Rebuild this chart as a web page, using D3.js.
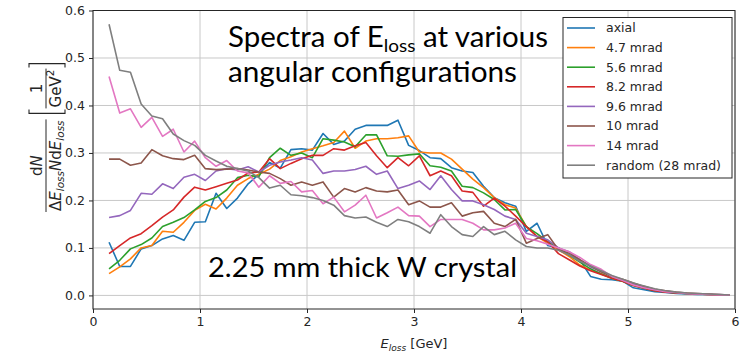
<!DOCTYPE html>
<html><head><meta charset="utf-8">
<script src="https://cdn.jsdelivr.net/npm/d3@7"></script>
<style>body{margin:0;background:#fff}svg{display:block}</style>
</head><body>
<svg id="c" width="740" height="355"></svg>
<script>
const energy = [0.15,0.25,0.35,0.45,0.55,0.65,0.75,0.85,0.95,
1.05,1.15,1.25,1.35,1.45,1.55,1.65,1.75,1.85,1.95,
2.05,2.15,2.25,2.35,2.45,2.55,2.65,2.75,2.85,2.95,
3.05,3.15,3.25,3.35,3.45,3.55,3.65,3.75,3.85,3.95,
4.05,4.15,4.25,4.35,4.45,4.55,4.65,4.75,4.85,4.95,
5.05,5.15,5.25,5.35,5.45,5.55,5.65,5.75,5.85,5.95];

const seriesNames = ["axial","4.7 mrad","5.6 mrad","8.2 mrad","9.6 mrad","10 mrad","14 mrad","random (28 mrad)"];
const seriesColors = ["#1f77b4","#ff7f0e","#2ca02c","#d62728","#9467bd","#8c564b","#e377c2","#7f7f7f"];

const axial = [0.112,0.061,0.061,0.098,0.105,0.119,0.126,0.116,0.154,
0.155,0.215,0.183,0.205,0.235,0.255,0.280,0.268,0.307,0.309,
0.306,0.341,0.318,0.325,0.350,0.358,0.358,0.358,0.369,0.316,
0.305,0.290,0.288,0.269,0.262,0.259,0.230,0.206,0.195,0.188,
0.135,0.152,0.105,0.100,0.085,0.075,0.040,0.034,0.033,0.030,
0.016,0.012,0.008,0.006,0.004,0.003,0.002,0.002,0.001,0.001];
const mrad47 = [0.046,0.060,0.077,0.100,0.105,0.135,0.133,0.154,0.179,
0.192,0.182,0.205,0.232,0.246,0.255,0.266,0.284,0.292,0.302,
0.309,0.315,0.322,0.346,0.310,0.325,0.330,0.330,0.332,0.336,
0.302,0.300,0.300,0.287,0.266,0.245,0.227,0.206,0.191,0.184,
0.145,0.124,0.110,0.096,0.082,0.064,0.053,0.046,0.036,0.030,
0.022,0.016,0.011,0.008,0.006,0.004,0.003,0.002,0.001,0.001];
const mrad56 = [0.056,0.074,0.098,0.107,0.121,0.145,0.154,0.164,0.180,
0.198,0.206,0.222,0.248,0.253,0.250,0.290,0.310,0.295,0.300,
0.290,0.330,0.327,0.323,0.313,0.338,0.338,0.294,0.293,0.296,
0.298,0.273,0.270,0.262,0.230,0.227,0.216,0.202,0.180,0.181,
0.145,0.130,0.113,0.100,0.085,0.070,0.056,0.045,0.036,0.030,
0.021,0.015,0.010,0.008,0.005,0.004,0.003,0.002,0.001,0.001];
const mrad82 = [0.088,0.105,0.121,0.130,0.147,0.165,0.180,0.207,0.228,
0.222,0.229,0.236,0.243,0.258,0.260,0.288,0.267,0.278,0.288,
0.295,0.295,0.309,0.306,0.315,0.322,0.294,0.269,0.290,0.273,
0.294,0.252,0.262,0.252,0.220,0.217,0.188,0.205,0.188,0.167,
0.145,0.124,0.113,0.088,0.075,0.062,0.052,0.044,0.036,0.030,
0.021,0.015,0.010,0.007,0.005,0.004,0.003,0.002,0.001,0.001];
const mrad96 = [0.164,0.168,0.179,0.215,0.213,0.235,0.225,0.249,0.255,
0.242,0.262,0.267,0.264,0.271,0.260,0.274,0.281,0.285,0.290,
0.285,0.257,0.262,0.262,0.265,0.272,0.255,0.262,0.225,0.232,
0.241,0.223,0.252,0.223,0.199,0.199,0.191,0.181,0.167,0.160,
0.131,0.124,0.117,0.100,0.092,0.075,0.060,0.050,0.040,0.032,
0.024,0.017,0.012,0.009,0.006,0.004,0.003,0.002,0.002,0.001];
const mrad10 = [0.287,0.287,0.274,0.279,0.307,0.294,0.288,0.286,0.295,
0.267,0.265,0.266,0.267,0.264,0.260,0.257,0.246,0.232,0.239,
0.232,0.239,0.207,0.225,0.218,0.227,0.220,0.218,0.222,0.191,
0.199,0.186,0.186,0.195,0.167,0.174,0.177,0.152,0.145,0.160,
0.110,0.120,0.128,0.096,0.089,0.075,0.062,0.050,0.040,0.034,
0.026,0.019,0.013,0.010,0.007,0.005,0.004,0.003,0.002,0.001];
const mrad14 = [0.461,0.384,0.393,0.354,0.375,0.335,0.350,0.302,0.325,
0.290,0.272,0.284,0.262,0.258,0.228,0.252,0.236,0.240,0.218,
0.221,0.193,0.207,0.176,0.190,0.211,0.163,0.174,0.186,0.168,
0.167,0.145,0.160,0.160,0.160,0.152,0.138,0.138,0.142,0.152,
0.120,0.115,0.108,0.100,0.092,0.080,0.065,0.055,0.040,0.032,
0.022,0.016,0.012,0.008,0.006,0.004,0.003,0.002,0.001,0.001];
const randomMrad = [0.571,0.474,0.470,0.403,0.378,0.372,0.340,0.326,0.316,
0.295,0.283,0.272,0.267,0.262,0.248,0.226,0.232,0.212,0.210,
0.206,0.200,0.190,0.168,0.163,0.165,0.154,0.145,0.160,0.155,
0.145,0.131,0.170,0.145,0.128,0.124,0.145,0.128,0.135,0.117,
0.103,0.100,0.100,0.095,0.085,0.072,0.062,0.052,0.042,0.034,
0.026,0.020,0.014,0.010,0.007,0.005,0.004,0.003,0.002,0.001];

const xTicks = [0,1,2,3,4,5,6];
const yTicks = [0.0,0.1,0.2,0.3,0.4,0.5,0.6];

const allSeries = [axial, mrad47, mrad56, mrad82, mrad96, mrad10, mrad14, randomMrad];

const svg = d3.select("#c");
const L = 93, R = 735, T = 10.5, B = 309;
const x = d3.scaleLinear().domain([0,6]).range([L,R]);
const y = d3.scaleLinear().domain([-0.0286,0.6]).range([B,T]);
const font = "DejaVu Sans, sans-serif";
const ink = "#262626";

// grid
const grid = svg.append("g");
grid.selectAll("line.v").data(xTicks).join("line")
  .attr("x1", d=>x(d)).attr("x2", d=>x(d)).attr("y1", T).attr("y2", B)
  .attr("stroke", "#c8c8c8").attr("stroke-width", 1);
grid.selectAll("line.h").data(yTicks).join("line")
  .attr("x1", L).attr("x2", R).attr("y1", d=>y(d)).attr("y2", d=>y(d))
  .attr("stroke", "#c8c8c8").attr("stroke-width", 1);

// series lines
const line = d3.line().x((d,i)=>x(energy[i])).y(d=>y(d));
svg.append("g").selectAll("path").data(allSeries).join("path")
  .attr("d", d=>line(d)).attr("fill","none")
  .attr("stroke", (d,i)=>seriesColors[i]).attr("stroke-width", 1.6)
  .attr("stroke-linejoin","round");

// axes
const xAxis = d3.axisBottom(x).tickValues(xTicks).tickFormat(d3.format("d")).tickSize(4).tickPadding(4);
const gx = svg.append("g").attr("transform", `translate(0,${B})`).call(xAxis);
const yAxis = d3.axisLeft(y).tickValues(yTicks).tickFormat(d3.format(".1f")).tickSize(4).tickPadding(4);
const gy = svg.append("g").attr("transform", `translate(${L},0)`).call(yAxis);
[gx, gy].forEach(g => {
  g.select(".domain").remove();
  g.selectAll("line").attr("stroke", ink);
  g.selectAll("text").attr("fill", ink).style("font-family", font).style("font-size", "12.5px");
});

// frame
svg.append("rect").attr("x", L).attr("y", T).attr("width", R-L).attr("height", B-T)
  .attr("fill","none").attr("stroke", ink).attr("stroke-width", 1);

// x label
const xl = svg.append("text").attr("x", x(3)).attr("y", 348).attr("text-anchor","middle")
  .attr("fill", ink).style("font-family", font).style("font-size","13px");
xl.append("tspan").style("font-style","italic").text("E");
xl.append("tspan").style("font-style","italic").style("font-size","9px").attr("dy",3).text("loss");
xl.append("tspan").attr("dy",-3).text(" [GeV]");

// y label (rotated): local u runs upward on screen, v runs rightward
const yl = svg.append("g").attr("transform","translate(46,0) rotate(-90)")
  .attr("fill", ink).style("font-family", font).style("font-size","15px");
const u0 = -212;
const den = yl.append("text").attr("y", 15).attr("text-anchor","middle");
den.append("tspan").text("Δ");
den.append("tspan").style("font-style","italic").text("E");
den.append("tspan").style("font-style","italic").style("font-size","10.5px").attr("dy",3).text("loss");
den.append("tspan").style("font-style","italic").attr("dy",-3).text("N");
den.append("tspan").text("d");
den.append("tspan").style("font-style","italic").text("E");
den.append("tspan").style("font-style","italic").style("font-size","10.5px").attr("dy",3).text("loss");
const dw = den.node().getComputedTextLength();
const fracU = u0 + dw/2 + 1;
den.attr("x", fracU);
const num = yl.append("text").attr("x", fracU).attr("y", -4).attr("text-anchor","middle");
num.append("tspan").text("d");
num.append("tspan").style("font-style","italic").text("N");
yl.append("line").attr("x1", fracU - dw/2 - 1).attr("x2", fracU + dw/2 + 1).attr("y1", 0).attr("y2", 0)
  .attr("stroke", ink).attr("stroke-width", 1);
const g2 = yl.append("text").attr("y", 15).attr("text-anchor","middle");
g2.append("tspan").text("GeV");
g2.append("tspan").style("font-size","10.5px").attr("dy",-7).text("2");
const gw = g2.node().getComputedTextLength();
const bl = u0 + dw + 2 + 6;
const brU = bl + 5 + gw/2 + 1;
const br = brU + gw/2 + 6;
g2.attr("x", brU);
yl.append("text").attr("x", brU).attr("y", -4).attr("text-anchor","middle").text("1");
yl.append("line").attr("x1", brU - gw/2 - 1).attr("x2", brU + gw/2 + 1).attr("y1", 0).attr("y2", 0)
  .attr("stroke", ink).attr("stroke-width", 1);
yl.append("path").attr("d", `M${bl+4},-17 L${bl},-17 L${bl},19 L${bl+4},19`)
  .attr("fill","none").attr("stroke", ink).attr("stroke-width", 1.1);
yl.append("path").attr("d", `M${br-4},-17 L${br},-17 L${br},19 L${br-4},19`)
  .attr("fill","none").attr("stroke", ink).attr("stroke-width", 1.1);

// legend
const lg = svg.append("g");
lg.append("rect").attr("x", 563).attr("y", 17.5).attr("width", 169).attr("height", 160.5)
  .attr("fill","#fff").attr("stroke", ink).attr("stroke-width", 1);
const items = lg.selectAll("g.it").data(seriesNames).join("g")
  .attr("transform", (d,i)=>`translate(0,${28 + i*19.6})`);
items.append("line").attr("x1", 567).attr("x2", 595).attr("y1", 0).attr("y2", 0)
  .attr("stroke", (d,i)=>seriesColors[i]).attr("stroke-width", 1.6);
items.append("text").attr("x", 606).attr("y", 0).attr("dy","0.35em")
  .attr("fill", ink).style("font-family", font).style("font-size","12.5px").text(d=>d);

// overlay annotations
const af = "Lato, 'Open Sans', sans-serif";
const t1 = svg.append("text").attr("x", 228).attr("y", 47).attr("fill","#000")
  .style("font-family", af).style("font-size","28px")
  .attr("textLength", 320).attr("lengthAdjust","spacingAndGlyphs");
t1.append("tspan").text("Spectra of E");
t1.append("tspan").style("font-size","18px").attr("dy",5).text("loss");
t1.append("tspan").attr("dy",-5).text(" at various");
svg.append("text").attr("x", 228).attr("y", 82).attr("fill","#000")
  .style("font-family", af).style("font-size","28px")
  .attr("textLength", 289).attr("lengthAdjust","spacingAndGlyphs").text("angular configurations");
svg.append("text").attr("x", 208).attr("y", 277).attr("fill","#000")
  .style("font-family", af).style("font-size","27px")
  .attr("textLength", 309).attr("lengthAdjust","spacingAndGlyphs").text("2.25 mm thick W crystal");
</script>
</body></html>
